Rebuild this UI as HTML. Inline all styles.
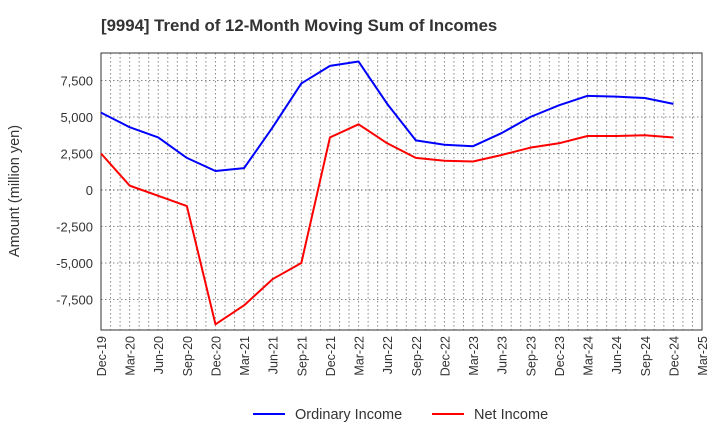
<!DOCTYPE html>
<html><head><meta charset="utf-8"><style>
body{margin:0;background:#fff;font-family:"Liberation Sans",sans-serif;}
</style></head><body>
<svg id="c" width="720" height="440" xmlns="http://www.w3.org/2000/svg" font-family="Liberation Sans, sans-serif">
<text x="101" y="31" font-size="16.8" font-weight="bold" fill="#333">[9994]  Trend of 12-Month Moving Sum of Incomes</text>
<text transform="translate(19,191) rotate(-90)" text-anchor="middle" font-size="14.5" fill="#333">Amount (million yen)</text>
<g id="grid"></g><g id="axes"></g><g id="series"></g>
<g>
<line x1="253" y1="414" x2="285" y2="414" stroke="#0000ff" stroke-width="2"/>
<text x="295" y="419" font-size="14.5" fill="#333">Ordinary Income</text>
<line x1="432" y1="414" x2="464" y2="414" stroke="#ff0000" stroke-width="2"/>
<text x="474" y="419" font-size="14.5" fill="#333">Net Income</text>
</g>
</svg>
<script>
const categories=["Dec-19","Mar-20","Jun-20","Sep-20","Dec-20","Mar-21","Jun-21","Sep-21","Dec-21","Mar-22","Jun-22","Sep-22","Dec-22","Mar-23","Jun-23","Sep-23","Dec-23","Mar-24","Jun-24","Sep-24","Dec-24","Mar-25"];
const ordinaryIncome=[5300,4300,3600,2200,1300,1500,4300,7300,8500,8800,5900,3400,3100,3000,3900,5000,5800,6450,6400,6300,5900];
const netIncome=[2500,300,-400,-1100,-9200,-7900,-6100,-5000,3600,4500,3200,2200,2000,1950,2400,2900,3200,3700,3700,3750,3600];
const yTicks=[-7500,-5000,-2500,0,2500,5000,7500];
const NS="http://www.w3.org/2000/svg";
const L=101,R=702,T=53,B=330;
const yMin=-9589,yMax=9384;
const x=i=>L+(R-L)*i/(categories.length-1);
const y=v=>T+(B-T)*(yMax-v)/(yMax-yMin);
function mk(tag,attrs,parent){const e=document.createElementNS(NS,tag);for(const k in attrs)e.setAttribute(k,attrs[k]);parent.appendChild(e);return e;}
const grid=document.getElementById('grid'),axes=document.getElementById('axes'),series=document.getElementById('series');
for(let m=1;m<(categories.length-1)*3;m++){const xx=L+(R-L)*m/((categories.length-1)*3);
const g=mk('line',{x1:xx,x2:xx,y1:T,y2:B,stroke:'#888','stroke-width':1,'stroke-dasharray':'1.5,2.5'},grid);

}
yTicks.forEach(v=>{const g=mk('line',{x1:L,x2:R,y1:y(v),y2:y(v),stroke:v===0?'#555':'#888','stroke-width':1,'stroke-dasharray':'1.5,2.5'},grid);


const t=mk('text',{x:L-8,y:y(v)+5,'text-anchor':'end','font-size':13,fill:'#333'},axes);t.textContent=v.toLocaleString('en-US');

});
const fr=mk('rect',{x:L,y:T,width:R-L,height:B-T,fill:'none',stroke:'#333','stroke-width':1},axes);


categories.forEach((c,i)=>{const t=mk('text',{transform:`translate(${x(i)+5},${B+6}) rotate(-90)`,'text-anchor':'end','font-size':12.5,fill:'#333'},axes);t.textContent=c;

});
function line(data,color,name){const p=mk('polyline',{points:data.map((v,i)=>x(i)+','+y(v)).join(' '),fill:'none',stroke:color,'stroke-width':2,'stroke-linejoin':'round'},series);

}
line(ordinaryIncome,'#0000ff','ordinary-income-line');
line(netIncome,'#ff0000','net-income-line');
</script>
</body></html>
